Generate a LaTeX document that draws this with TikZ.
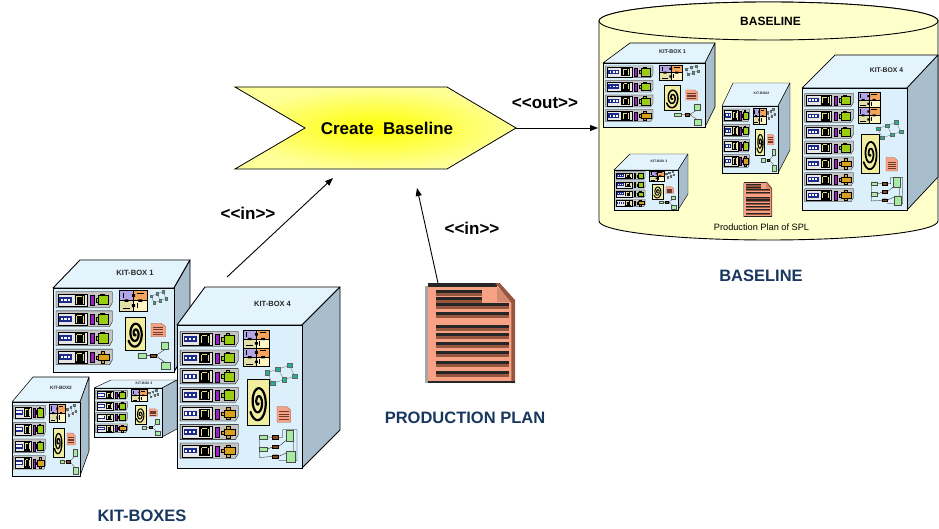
\documentclass[tikz,border=0pt]{standalone}
\usepackage{fontspec}
\setmainfont{Liberation Sans}
\usetikzlibrary{arrows.meta}

\definecolor{frontblue}{HTML}{DCF0FC}
\definecolor{topblue}{HTML}{E4F4FD}
\definecolor{sideblue}{HTML}{A8BECC}
\definecolor{slotgray}{HTML}{C4C4C4}
\definecolor{panelgray}{HTML}{E6E6E6}
\definecolor{connblue}{HTML}{1C2A8A}
\definecolor{portyellow}{HTML}{E6DE7A}
\definecolor{slotpurple}{HTML}{A01EC8}
\definecolor{partgreen}{HTML}{9ACD10}
\definecolor{partorange}{HTML}{D9A01E}
\definecolor{pzlav}{HTML}{B4A6E6}
\definecolor{pzorange}{HTML}{F4A45C}
\definecolor{pzbeige}{HTML}{E4E0A8}
\definecolor{pzyellow}{HTML}{FFF6C4}
\definecolor{netteal}{HTML}{1DB48E}
\definecolor{spiralbg}{HTML}{F2EEA0}
\definecolor{docsalmon}{HTML}{F8A285}
\definecolor{docbrown}{HTML}{99563F}
\definecolor{treegreen}{HTML}{A6EBA0}
\definecolor{wirebrown}{HTML}{8B4A1E}
\definecolor{cylfill}{HTML}{FFFFCC}
\definecolor{labelblue}{HTML}{17375E}
\definecolor{chevyellow}{HTML}{FFFF00}
\definecolor{chevpale}{HTML}{FFFF99}

% ---------- parameters of a kit-box ----------
\pgfkeys{/kb/.is family, /kb,
  name/.store in=\kbName,
  w/.store in=\kbW, h/.store in=\kbH,
  dxl/.store in=\kbDL, dxr/.store in=\kbDR, d/.store in=\kbD,
  rows/.store in=\kbRows, orange/.store in=\kbOrange,
  label/.store in=\kbLabel, fs/.store in=\kbFS,
  tall/.store in=\kbTall, s/.store in=\kbS}

% draw #5 inside the frame (u0,v0)-(u1,v1), fractions of the front face
\newcommand\kbframe[5]{%
  \pgfmathsetmacro\kbfx{#1*\kbW}\pgfmathsetmacro\kbfy{#2*\kbH}%
  \pgfmathsetmacro\kbfw{(#3-#1)*\kbW}\pgfmathsetmacro\kbfh{(#4-#2)*\kbH}%
  \begin{scope}[shift={(\kbfx,\kbfy)}, xscale=\kbfw, yscale=\kbfh]#5\end{scope}}

% one plug-in card; #1 = 1 gives the orange part, 0 the green one
\newcommand\kbslot[1]{%
  \filldraw[fill=slotgray, draw=black, line width=\kbthin pt]
    (0,0) -- (1,0) -- (1,0.7) -- (0.95,1) -- (0,1) -- cycle;
  \filldraw[fill=panelgray, draw=black, line width=\kbthin pt] (0.03,0.12) rectangle (0.55,0.9);
  \fill[connblue] (0.06,0.33) rectangle (0.29,0.69);
  \foreach \q in {0.085,0.15,0.215} \fill[white] (\q,0.43) rectangle ++(0.04,0.16);
  \fill[black] (0.33,0.18) rectangle (0.51,0.86);
  \draw[portyellow, line width=\kbthin pt] (0.36,0.3) -- (0.36,0.75) (0.48,0.3) -- (0.48,0.75) (0.38,0.26) -- (0.46,0.26);
  \filldraw[fill=slotpurple, draw=black, line width=\kbthin pt] (0.61,0.2) rectangle (0.67,0.86);
  \ifnum#1=1
    \filldraw[fill=partorange, draw=black, line width=\kbthin pt]
      (0.71,0.42) rectangle (0.75,0.62)
      (0.75,0.3) rectangle (0.95,0.72)
      (0.8,0.12) rectangle (0.86,0.3)
      (0.8,0.72) rectangle (0.86,0.9);
  \else
    \filldraw[fill=partgreen, draw=black, line width=\kbthin pt]
      (0.71,0.38) rectangle (0.75,0.64)
      (0.75,0.22) rectangle (0.93,0.82)
      (0.79,0.12) rectangle (0.85,0.22);
  \fi}

\newcommand\kbpuzzle{%
  \filldraw[fill=pzlav, draw=black, line width=\kbthin pt] (0,0) rectangle (0.5,0.5);
  \filldraw[fill=pzorange, draw=black, line width=\kbthin pt] (0.5,0) rectangle (1,0.5);
  \filldraw[fill=pzbeige, draw=black, line width=\kbthin pt] (0,0.5) rectangle (0.5,1);
  \filldraw[fill=pzyellow, draw=black, line width=\kbthin pt] (0.5,0.5) rectangle (1,1);
  \fill[black] (0.44,0.18) rectangle (0.56,0.32) (0.44,0.68) rectangle (0.56,0.82)
               (0.18,0.44) rectangle (0.32,0.56) (0.68,0.44) rectangle (0.82,0.56);
  \draw[black, line width=\kbmid pt] (0.12,0.12) -- (0.12,0.38) (0.62,0.62) -- (0.62,0.88)
    (0.62,0.12) -- (0.88,0.12) (0.12,0.88) -- (0.38,0.88);}

\newcommand\kbnet{%
  \draw[black!60, line width=\kbthin pt]
    (0.08,0.42) -- (0.40,0.25) -- (0.74,0.08)
    (0.24,0.92) -- (0.58,0.75) -- (0.89,0.58)
    (0.08,0.42) -- (0.24,0.92) (0.40,0.25) -- (0.58,0.75) (0.74,0.08) -- (0.89,0.58);
  \foreach \p in {(0.08,0.42),(0.40,0.25),(0.74,0.08),(0.24,0.92),(0.58,0.75),(0.89,0.58)}
    \filldraw[fill=netteal, draw=black!60, line width=\kbthin pt] \p +(-0.07,-0.1) rectangle +(0.07,0.1);}

\newcommand\kbspiral{%
  \filldraw[fill=spiralbg, draw=black, line width=\kbmid pt] (0,0) rectangle (1,1);
  \draw[black, line width=\kbspw pt, line cap=round]
    plot[domain=60:870, samples=90, smooth, variable=\t]
    ({0.5+0.4*\t/870*cos(\t)}, {0.5+0.42*\t/870*sin(\t)});}

\newcommand\kbdoc{%
  \filldraw[fill=docsalmon, draw=docbrown, line width=\kbthin pt]
    (0,0) -- (0.7,0) -- (1,0.22) -- (1,1) -- (0,1) -- cycle;
  \foreach \yy in {0.3,0.46,0.62,0.78}
    \fill[docbrown!70!black] (0.15,\yy) rectangle (0.85,\yy+0.07);}

\newcommand\kbtree{%
  \draw[black, line width=\kbthin pt] (0.25,0.5) -- (0.62,0.5) (0.55,0.5) -- (0.83,0.28) (0.55,0.5) -- (0.83,0.74);
  \filldraw[fill=treegreen, draw=black!70, line width=\kbthin pt]
    (0,0.42) rectangle (0.25,0.58)
    (0.72,0) rectangle (0.94,0.28)
    (0.72,0.74) rectangle (0.98,1);
  \filldraw[fill=wirebrown, draw=black, line width=\kbthin pt] (0.38,0.44) rectangle (0.55,0.56);}

\newcommand\kbtreetall{%
  \draw[black, line width=\kbthin pt]
    (0.2,0.26) -- (0.35,0.27) (0.2,0.62) -- (0.35,0.55)
    (0.0,0.26) -- (0.0,0.86) -- (0.35,0.83)
    (0.5,0.27) -- (0.62,0.27) -- (0.62,0.05) -- (1,0.05) -- (1,0.95) -- (0.5,0.95)
    (0.5,0.55) -- (0.78,0.3) (0.5,0.83) -- (0.78,0.7) (0.9,0.38) -- (0.9,0.7);
  \filldraw[fill=treegreen, draw=black!70, line width=\kbthin pt]
    (0,0.2) rectangle (0.2,0.32) (0,0.56) rectangle (0.2,0.68)
    (0.7,0.06) rectangle (0.9,0.38) (0.72,0.68) rectangle (0.95,1);
  \filldraw[fill=wirebrown, draw=black, line width=\kbthin pt]
    (0.35,0.22) rectangle (0.5,0.32) (0.35,0.5) rectangle (0.5,0.6) (0.35,0.78) rectangle (0.5,0.88);}

% a kit-box cube; #1 = top-left corner of its front face, #2 = keys
\newcommand\kitbox[2]{%
  \begingroup
  \pgfkeys{/kb, name=kb, w=100, h=80, dxl=20, dxr=20, d=20, rows=4, orange=1,
           label={}, fs=6, tall=0, s=1, #2}%
  \pgfmathsetmacro\kbthin{0.3*\kbS}%
  \pgfmathsetmacro\kbmid{0.6*\kbS}%
  \pgfmathsetmacro\kbedge{0.9*\kbS}%
  \pgfmathsetmacro\kbspw{2.2*\kbS}%
  \begin{scope}[shift={#1}]
    \filldraw[fill=topblue, draw=black, line width=\kbedge pt, line join=round]
      (0,0) -- (\kbDL,-\kbD) -- ({\kbW+\kbDR},-\kbD) -- (\kbW,0) -- cycle;
    \filldraw[fill=sideblue, draw=black, line width=\kbedge pt, line join=round]
      (\kbW,0) -- ({\kbW+\kbDR},-\kbD) -- ({\kbW+\kbDR},{\kbH-\kbD}) -- (\kbW,\kbH) -- cycle;
    \filldraw[fill=frontblue, draw=black, line width=\kbedge pt] (0,0) rectangle (\kbW,\kbH);
    \node[inner sep=0pt, font=\bfseries\fontsize{\kbFS}{\kbFS}\selectfont, text=black!85]
      (\kbName-label) at ({(\kbDL+\kbW+\kbDR)/2},{-0.55*\kbD}) {\kbLabel};
    \pgfmathsetmacro\kbM{0.045*\kbH}%
    \pgfmathsetmacro\kbP{(\kbH-2*\kbM)/\kbRows}%
    \pgfmathsetmacro\kbsx{0.025*\kbW}%
    \pgfmathsetmacro\kbsw{0.465*\kbW}%
    \pgfmathsetmacro\kbsh{0.82*\kbP}%
    \foreach \i in {1,...,\kbRows} {
      \pgfmathsetmacro\kbsy{\kbM+(\i-1)*\kbP}
      \pgfmathtruncatemacro\isor{\i>(\kbRows-\kbOrange)}
      \begin{scope}[shift={(\kbsx,\kbsy)}, xscale=\kbsw, yscale=\kbsh]
        \kbslot{\isor}
      \end{scope}
    }
    \ifnum\kbTall=1
      \kbframe{0.53}{0.035}{0.74}{0.16}{\kbpuzzle}
      \kbframe{0.53}{0.16}{0.74}{0.29}{\kbpuzzle}
      \kbframe{0.70}{0.27}{0.97}{0.42}{\kbnet}
      \kbframe{0.56}{0.38}{0.74}{0.70}{\kbspiral}
      \kbframe{0.80}{0.57}{0.91}{0.68}{\kbdoc}
      \kbframe{0.66}{0.72}{0.96}{0.96}{\kbtreetall}
    \else
      \kbframe{0.55}{0.03}{0.78}{0.27}{\kbpuzzle}
      \kbframe{0.80}{0.03}{0.95}{0.19}{\kbnet}
      \kbframe{0.60}{0.35}{0.76}{0.74}{\kbspiral}
      \kbframe{0.81}{0.42}{0.93}{0.58}{\kbdoc}
      \kbframe{0.70}{0.64}{0.97}{0.97}{\kbtree}
    \fi
  \end{scope}
  \endgroup}

% production plan sheet in a unit frame
\newcommand\ppdoc{%
  \fill[gray!70] (0,0.03) rectangle (0.035,1);
  \fill[docsalmon] (0.035,0.03) -- (0.8,0.03) -- (0.97,0.19) -- (0.97,0.99) -- (0.035,0.99) -- cycle;
  \fill[black!85] (0.035,0) rectangle (0.8,0.04);
  \fill[docbrown] (0.78,0) -- (0.83,0) -- (1,0.17) -- (1,1) -- (0.96,1) -- (0.96,0.2) -- cycle;
  \fill[docsalmon!85!black] (0.8,0.04) -- (0.8,0.19) -- (0.95,0.19) -- cycle;
  \fill[black!85] (0.035,0.975) rectangle (1,1);
  \foreach \yy in {0.07,0.14} {
    \fill[black!85] (0.12,\yy) rectangle (0.63,\yy+0.03);
    \fill[docbrown] (0.12,\yy+0.03) rectangle (0.63,\yy+0.06);}
  \foreach \yy in {0.2,0.29,0.42,0.5,0.59,0.68,0.78,0.88} {
    \fill[black!85] (0.12,\yy) rectangle (0.93,\yy+0.03);
    \fill[docbrown] (0.12,\yy+0.03) rectangle (0.93,\yy+0.06);}}

\tikzset{
  flow/.style={-{Triangle[length=8pt,width=6pt]}, line width=0.9pt},
  stereo/.style={font=\bfseries\fontsize{17}{20}\selectfont},
  caption/.style={font=\bfseries\fontsize{16.5}{19}\selectfont, text=labelblue},
}

\begin{document}
\begin{tikzpicture}[x=1pt, y=-1pt]
\useasboundingbox (0,0) rectangle (939,529);

% ---------- baseline store ----------
\filldraw[fill=cylfill, draw=black, line width=0.9pt]
  (599,21) -- (599,221) arc[start angle=180, end angle=0, x radius=169.5, y radius=19]
  -- (938,21) arc[start angle=0, end angle=-180, x radius=169.5, y radius=19] -- cycle;
\filldraw[fill=cylfill, draw=black, line width=0.9pt] (768.5,21) ellipse[x radius=169.5, y radius=19];
\node[font=\bfseries\fontsize{12}{14}\selectfont] (storetitle) at (770.5,21) {BASELINE};

\kitbox{(603,63)}{name=bkb1, w=102, h=64, dxl=27, dxr=10, d=20, rows=4, orange=1,
  label={KIT-BOX 1}, fs=5.5, s=0.7}
\kitbox{(614,170)}{name=bkb3, w=64, h=40, dxl=16, dxr=10, d=16, rows=4, orange=1,
  label={KIT-BOX 3}, fs=3.4, s=0.45}
\kitbox{(722,106)}{name=bkb2, w=56, h=67, dxl=11, dxr=12, d=23, rows=4, orange=1,
  label={KIT-BOX2}, fs=3.4, s=0.5}
\kitbox{(802,88)}{name=bkb4, w=105, h=122, dxl=33, dxr=31, d=33, rows=7, orange=3,
  label={KIT-BOX 4}, fs=6.8, tall=1, s=0.8}

\begin{scope}[shift={(743,182)}, xscale=29, yscale=35]\ppdoc\end{scope}
\node[font=\fontsize{9.2}{11}\selectfont] (storeplan) at (761.5,227) {Production Plan of SPL};

% ---------- activity ----------
\shadedraw[draw=black, line width=0.8pt, inner color=chevyellow, outer color=chevpale]
  (235,87) -- (447,87) -- (516,128) -- (447,169) -- (235,169) -- (305,128) -- cycle;
\node[stereo] (create) at (387,128) {Create\ \ Baseline};

% ---------- kit-boxes ----------
\kitbox{(53,288)}{name=kb1, w=121, h=84, dxl=27, dxr=16, d=28, rows=4, orange=1,
  label={KIT-BOX 1}, fs=7.6, s=1}
\kitbox{(12,402)}{name=kb2, w=68, h=74, dxl=21, dxr=9, d=25, rows=4, orange=1,
  label={KIT-BOX2}, fs=4.7, s=0.6}
\kitbox{(94,388)}{name=kb3, w=68, h=49, dxl=17, dxr=15, d=8, rows=4, orange=1,
  label={KIT-BOX 3}, fs=3.4, s=0.5}
\kitbox{(177,325)}{name=kb4, w=125, h=143, dxl=28, dxr=38, d=38, rows=7, orange=3,
  label={KIT-BOX 4}, fs=7.5, tall=1, s=1}

% ---------- production plan ----------
\begin{scope}[shift={(425,283)}, xscale=90, yscale=100]\ppdoc\end{scope}

% ---------- flows ----------
\coordinate (kbtop) at (227,277);
\coordinate (createin) at (333,178);
\coordinate (pptop) at (438,283);
\coordinate (createbase) at (417,188);
\coordinate (createtip) at (516,128);
\coordinate (storeleft) at (598,128);

\draw[flow] (kbtop) -- (createin);
\draw[flow] (pptop) -- (createbase);
\draw[flow] (createtip) -- (storeleft);

\node[stereo] (in1) at (248,213) {<\kern0pt<in>\kern0pt>};
\node[stereo] (in2) at (472,228) {<\kern0pt<in>\kern0pt>};
\node[stereo] (out) at (545,103) {<\kern0pt<out>\kern0pt>};

\node[caption] (kbcap) at (142,516) {KIT-BOXES};
\node[caption] (ppcap) at (465,418) {PRODUCTION PLAN};
\node[caption] (blcap) at (761,276) {BASELINE};
\end{tikzpicture}
\end{document}
